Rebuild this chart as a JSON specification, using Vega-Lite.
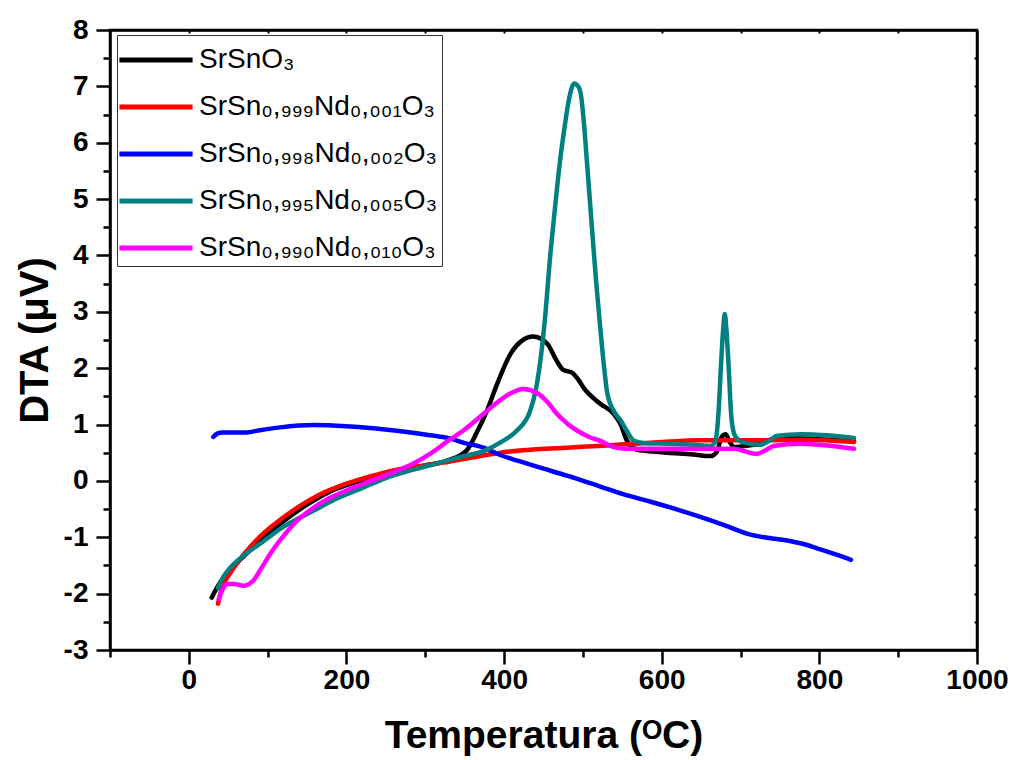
{
  "$schema": "https://vega.github.io/schema/vega-lite/v6.json",
  "width": 867,
  "height": 620,
  "autosize": {"type": "none"},
  "padding": {"left": 110, "top": 30, "right": 44, "bottom": 110},
  "background": "white",
  "config": {
    "view": {"stroke": "black", "strokeWidth": 2.5},
    "font": "Liberation Sans"
  },
  "datasets": {
    "dta": [
      {"s": "SrSnO₃", "T": 29, "v": -2.07}, {"s": "SrSnO₃", "T": 40, "v": -1.8}, {"s": "SrSnO₃", "T": 52, "v": -1.6}, {"s": "SrSnO₃", "T": 65, "v": -1.4}, {"s": "SrSnO₃", "T": 90, "v": -1.07}, {"s": "SrSnO₃", "T": 116, "v": -0.76}, {"s": "SrSnO₃", "T": 150, "v": -0.42}, {"s": "SrSnO₃", "T": 179, "v": -0.19}, {"s": "SrSnO₃", "T": 210, "v": -0.03}, {"s": "SrSnO₃", "T": 243, "v": 0.1}, {"s": "SrSnO₃", "T": 275, "v": 0.2}, {"s": "SrSnO₃", "T": 306, "v": 0.29}, {"s": "SrSnO₃", "T": 330, "v": 0.37}, {"s": "SrSnO₃", "T": 353, "v": 0.55}, {"s": "SrSnO₃", "T": 365, "v": 0.85}, {"s": "SrSnO₃", "T": 378, "v": 1.24}, {"s": "SrSnO₃", "T": 392, "v": 1.75}, {"s": "SrSnO₃", "T": 408, "v": 2.25}, {"s": "SrSnO₃", "T": 422, "v": 2.48}, {"s": "SrSnO₃", "T": 437, "v": 2.56}, {"s": "SrSnO₃", "T": 455, "v": 2.43}, {"s": "SrSnO₃", "T": 466, "v": 2.15}, {"s": "SrSnO₃", "T": 475, "v": 1.97}, {"s": "SrSnO₃", "T": 486, "v": 1.92}, {"s": "SrSnO₃", "T": 494, "v": 1.8}, {"s": "SrSnO₃", "T": 501, "v": 1.65}, {"s": "SrSnO₃", "T": 522, "v": 1.37}, {"s": "SrSnO₃", "T": 539, "v": 1.19}, {"s": "SrSnO₃", "T": 548, "v": 1.0}, {"s": "SrSnO₃", "T": 556, "v": 0.71}, {"s": "SrSnO₃", "T": 569, "v": 0.55}, {"s": "SrSnO₃", "T": 590, "v": 0.52}, {"s": "SrSnO₃", "T": 607, "v": 0.5}, {"s": "SrSnO₃", "T": 640, "v": 0.47}, {"s": "SrSnO₃", "T": 662, "v": 0.44}, {"s": "SrSnO₃", "T": 670, "v": 0.52}, {"s": "SrSnO₃", "T": 676, "v": 0.78}, {"s": "SrSnO₃", "T": 681, "v": 0.83}, {"s": "SrSnO₃", "T": 686, "v": 0.7}, {"s": "SrSnO₃", "T": 692, "v": 0.6}, {"s": "SrSnO₃", "T": 710, "v": 0.63}, {"s": "SrSnO₃", "T": 725, "v": 0.66}, {"s": "SrSnO₃", "T": 740, "v": 0.74}, {"s": "SrSnO₃", "T": 760, "v": 0.76}, {"s": "SrSnO₃", "T": 800, "v": 0.74}, {"s": "SrSnO₃", "T": 844, "v": 0.71},

      {"s": "SrSn₀,₉₉₉Nd₀,₀₀₁O₃", "T": 37, "v": -2.18}, {"s": "SrSn₀,₉₉₉Nd₀,₀₀₁O₃", "T": 42, "v": -1.9}, {"s": "SrSn₀,₉₉₉Nd₀,₀₀₁O₃", "T": 52, "v": -1.65}, {"s": "SrSn₀,₉₉₉Nd₀,₀₀₁O₃", "T": 70, "v": -1.3}, {"s": "SrSn₀,₉₉₉Nd₀,₀₀₁O₃", "T": 94, "v": -0.94}, {"s": "SrSn₀,₉₉₉Nd₀,₀₀₁O₃", "T": 115, "v": -0.7}, {"s": "SrSn₀,₉₉₉Nd₀,₀₀₁O₃", "T": 137, "v": -0.48}, {"s": "SrSn₀,₉₉₉Nd₀,₀₀₁O₃", "T": 165, "v": -0.25}, {"s": "SrSn₀,₉₉₉Nd₀,₀₀₁O₃", "T": 200, "v": -0.05}, {"s": "SrSn₀,₉₉₉Nd₀,₀₀₁O₃", "T": 230, "v": 0.08}, {"s": "SrSn₀,₉₉₉Nd₀,₀₀₁O₃", "T": 264, "v": 0.2}, {"s": "SrSn₀,₉₉₉Nd₀,₀₀₁O₃", "T": 300, "v": 0.28}, {"s": "SrSn₀,₉₉₉Nd₀,₀₀₁O₃", "T": 330, "v": 0.34}, {"s": "SrSn₀,₉₉₉Nd₀,₀₀₁O₃", "T": 370, "v": 0.44}, {"s": "SrSn₀,₉₉₉Nd₀,₀₀₁O₃", "T": 395, "v": 0.5}, {"s": "SrSn₀,₉₉₉Nd₀,₀₀₁O₃", "T": 430, "v": 0.55}, {"s": "SrSn₀,₉₉₉Nd₀,₀₀₁O₃", "T": 480, "v": 0.59}, {"s": "SrSn₀,₉₉₉Nd₀,₀₀₁O₃", "T": 520, "v": 0.62}, {"s": "SrSn₀,₉₉₉Nd₀,₀₀₁O₃", "T": 565, "v": 0.66}, {"s": "SrSn₀,₉₉₉Nd₀,₀₀₁O₃", "T": 600, "v": 0.69}, {"s": "SrSn₀,₉₉₉Nd₀,₀₀₁O₃", "T": 649, "v": 0.72}, {"s": "SrSn₀,₉₉₉Nd₀,₀₀₁O₃", "T": 700, "v": 0.72}, {"s": "SrSn₀,₉₉₉Nd₀,₀₀₁O₃", "T": 734, "v": 0.72}, {"s": "SrSn₀,₉₉₉Nd₀,₀₀₁O₃", "T": 780, "v": 0.73}, {"s": "SrSn₀,₉₉₉Nd₀,₀₀₁O₃", "T": 844, "v": 0.69},

      {"s": "SrSn₀,₉₉₈Nd₀,₀₀₂O₃", "T": 31, "v": 0.78}, {"s": "SrSn₀,₉₉₈Nd₀,₀₀₂O₃", "T": 36, "v": 0.84}, {"s": "SrSn₀,₉₉₈Nd₀,₀₀₂O₃", "T": 43, "v": 0.86}, {"s": "SrSn₀,₉₉₈Nd₀,₀₀₂O₃", "T": 60, "v": 0.86}, {"s": "SrSn₀,₉₉₈Nd₀,₀₀₂O₃", "T": 73, "v": 0.86}, {"s": "SrSn₀,₉₉₈Nd₀,₀₀₂O₃", "T": 90, "v": 0.9}, {"s": "SrSn₀,₉₉₈Nd₀,₀₀₂O₃", "T": 116, "v": 0.95}, {"s": "SrSn₀,₉₉₈Nd₀,₀₀₂O₃", "T": 158, "v": 0.99}, {"s": "SrSn₀,₉₉₈Nd₀,₀₀₂O₃", "T": 200, "v": 0.97}, {"s": "SrSn₀,₉₉₈Nd₀,₀₀₂O₃", "T": 230, "v": 0.94}, {"s": "SrSn₀,₉₉₈Nd₀,₀₀₂O₃", "T": 264, "v": 0.89}, {"s": "SrSn₀,₉₉₈Nd₀,₀₀₂O₃", "T": 306, "v": 0.81}, {"s": "SrSn₀,₉₉₈Nd₀,₀₀₂O₃", "T": 332, "v": 0.75}, {"s": "SrSn₀,₉₉₈Nd₀,₀₀₂O₃", "T": 348, "v": 0.68}, {"s": "SrSn₀,₉₉₈Nd₀,₀₀₂O₃", "T": 374, "v": 0.59}, {"s": "SrSn₀,₉₉₈Nd₀,₀₀₂O₃", "T": 395, "v": 0.46}, {"s": "SrSn₀,₉₉₈Nd₀,₀₀₂O₃", "T": 417, "v": 0.36}, {"s": "SrSn₀,₉₉₈Nd₀,₀₀₂O₃", "T": 459, "v": 0.18}, {"s": "SrSn₀,₉₉₈Nd₀,₀₀₂O₃", "T": 490, "v": 0.05}, {"s": "SrSn₀,₉₉₈Nd₀,₀₀₂O₃", "T": 522, "v": -0.1}, {"s": "SrSn₀,₉₉₈Nd₀,₀₀₂O₃", "T": 550, "v": -0.23}, {"s": "SrSn₀,₉₉₈Nd₀,₀₀₂O₃", "T": 586, "v": -0.37}, {"s": "SrSn₀,₉₉₈Nd₀,₀₀₂O₃", "T": 620, "v": -0.51}, {"s": "SrSn₀,₉₉₈Nd₀,₀₀₂O₃", "T": 649, "v": -0.64}, {"s": "SrSn₀,₉₉₈Nd₀,₀₀₂O₃", "T": 680, "v": -0.79}, {"s": "SrSn₀,₉₉₈Nd₀,₀₀₂O₃", "T": 709, "v": -0.94}, {"s": "SrSn₀,₉₉₈Nd₀,₀₀₂O₃", "T": 734, "v": -1.01}, {"s": "SrSn₀,₉₉₈Nd₀,₀₀₂O₃", "T": 764, "v": -1.07}, {"s": "SrSn₀,₉₉₈Nd₀,₀₀₂O₃", "T": 780, "v": -1.12}, {"s": "SrSn₀,₉₉₈Nd₀,₀₀₂O₃", "T": 798, "v": -1.2}, {"s": "SrSn₀,₉₉₈Nd₀,₀₀₂O₃", "T": 820, "v": -1.3}, {"s": "SrSn₀,₉₉₈Nd₀,₀₀₂O₃", "T": 840, "v": -1.4},

      {"s": "SrSn₀,₉₉₅Nd₀,₀₀₅O₃", "T": 37, "v": -1.9}, {"s": "SrSn₀,₉₉₅Nd₀,₀₀₅O₃", "T": 44, "v": -1.7}, {"s": "SrSn₀,₉₉₅Nd₀,₀₀₅O₃", "T": 52, "v": -1.55}, {"s": "SrSn₀,₉₉₅Nd₀,₀₀₅O₃", "T": 69, "v": -1.33}, {"s": "SrSn₀,₉₉₅Nd₀,₀₀₅O₃", "T": 90, "v": -1.12}, {"s": "SrSn₀,₉₉₅Nd₀,₀₀₅O₃", "T": 116, "v": -0.85}, {"s": "SrSn₀,₉₉₅Nd₀,₀₀₅O₃", "T": 158, "v": -0.53}, {"s": "SrSn₀,₉₉₅Nd₀,₀₀₅O₃", "T": 190, "v": -0.3}, {"s": "SrSn₀,₉₉₅Nd₀,₀₀₅O₃", "T": 221, "v": -0.12}, {"s": "SrSn₀,₉₉₅Nd₀,₀₀₅O₃", "T": 250, "v": 0.05}, {"s": "SrSn₀,₉₉₅Nd₀,₀₀₅O₃", "T": 285, "v": 0.2}, {"s": "SrSn₀,₉₉₅Nd₀,₀₀₅O₃", "T": 320, "v": 0.33}, {"s": "SrSn₀,₉₉₅Nd₀,₀₀₅O₃", "T": 348, "v": 0.44}, {"s": "SrSn₀,₉₉₅Nd₀,₀₀₅O₃", "T": 374, "v": 0.53}, {"s": "SrSn₀,₉₉₅Nd₀,₀₀₅O₃", "T": 395, "v": 0.68}, {"s": "SrSn₀,₉₉₅Nd₀,₀₀₅O₃", "T": 416, "v": 0.89}, {"s": "SrSn₀,₉₉₅Nd₀,₀₀₅O₃", "T": 433, "v": 1.24}, {"s": "SrSn₀,₉₉₅Nd₀,₀₀₅O₃", "T": 440, "v": 1.6}, {"s": "SrSn₀,₉₉₅Nd₀,₀₀₅O₃", "T": 446, "v": 2.13}, {"s": "SrSn₀,₉₉₅Nd₀,₀₀₅O₃", "T": 452, "v": 2.9}, {"s": "SrSn₀,₉₉₅Nd₀,₀₀₅O₃", "T": 458, "v": 3.91}, {"s": "SrSn₀,₉₉₅Nd₀,₀₀₅O₃", "T": 465, "v": 4.9}, {"s": "SrSn₀,₉₉₅Nd₀,₀₀₅O₃", "T": 471, "v": 5.68}, {"s": "SrSn₀,₉₉₅Nd₀,₀₀₅O₃", "T": 477, "v": 6.3}, {"s": "SrSn₀,₉₉₅Nd₀,₀₀₅O₃", "T": 482, "v": 6.75}, {"s": "SrSn₀,₉₉₅Nd₀,₀₀₅O₃", "T": 489, "v": 7.05}, {"s": "SrSn₀,₉₉₅Nd₀,₀₀₅O₃", "T": 494, "v": 7.0}, {"s": "SrSn₀,₉₉₅Nd₀,₀₀₅O₃", "T": 497, "v": 6.89}, {"s": "SrSn₀,₉₉₅Nd₀,₀₀₅O₃", "T": 501, "v": 6.4}, {"s": "SrSn₀,₉₉₅Nd₀,₀₀₅O₃", "T": 505, "v": 5.68}, {"s": "SrSn₀,₉₉₅Nd₀,₀₀₅O₃", "T": 509, "v": 4.95}, {"s": "SrSn₀,₉₉₅Nd₀,₀₀₅O₃", "T": 513, "v": 4.21}, {"s": "SrSn₀,₉₉₅Nd₀,₀₀₅O₃", "T": 517, "v": 3.5}, {"s": "SrSn₀,₉₉₅Nd₀,₀₀₅O₃", "T": 522, "v": 2.72}, {"s": "SrSn₀,₉₉₅Nd₀,₀₀₅O₃", "T": 527, "v": 2.0}, {"s": "SrSn₀,₉₉₅Nd₀,₀₀₅O₃", "T": 531, "v": 1.55}, {"s": "SrSn₀,₉₉₅Nd₀,₀₀₅O₃", "T": 540, "v": 1.22}, {"s": "SrSn₀,₉₉₅Nd₀,₀₀₅O₃", "T": 548, "v": 1.07}, {"s": "SrSn₀,₉₉₅Nd₀,₀₀₅O₃", "T": 556, "v": 0.88}, {"s": "SrSn₀,₉₉₅Nd₀,₀₀₅O₃", "T": 565, "v": 0.71}, {"s": "SrSn₀,₉₉₅Nd₀,₀₀₅O₃", "T": 580, "v": 0.67}, {"s": "SrSn₀,₉₉₅Nd₀,₀₀₅O₃", "T": 607, "v": 0.66}, {"s": "SrSn₀,₉₉₅Nd₀,₀₀₅O₃", "T": 640, "v": 0.64}, {"s": "SrSn₀,₉₉₅Nd₀,₀₀₅O₃", "T": 662, "v": 0.62}, {"s": "SrSn₀,₉₉₅Nd₀,₀₀₅O₃", "T": 668, "v": 0.7}, {"s": "SrSn₀,₉₉₅Nd₀,₀₀₅O₃", "T": 672, "v": 1.2}, {"s": "SrSn₀,₉₉₅Nd₀,₀₀₅O₃", "T": 675, "v": 2.0}, {"s": "SrSn₀,₉₉₅Nd₀,₀₀₅O₃", "T": 678, "v": 2.7}, {"s": "SrSn₀,₉₉₅Nd₀,₀₀₅O₃", "T": 680, "v": 2.96}, {"s": "SrSn₀,₉₉₅Nd₀,₀₀₅O₃", "T": 682, "v": 2.7}, {"s": "SrSn₀,₉₉₅Nd₀,₀₀₅O₃", "T": 685, "v": 2.0}, {"s": "SrSn₀,₉₉₅Nd₀,₀₀₅O₃", "T": 688, "v": 1.2}, {"s": "SrSn₀,₉₉₅Nd₀,₀₀₅O₃", "T": 692, "v": 0.83}, {"s": "SrSn₀,₉₉₅Nd₀,₀₀₅O₃", "T": 698, "v": 0.72}, {"s": "SrSn₀,₉₉₅Nd₀,₀₀₅O₃", "T": 704, "v": 0.68}, {"s": "SrSn₀,₉₉₅Nd₀,₀₀₅O₃", "T": 725, "v": 0.64}, {"s": "SrSn₀,₉₉₅Nd₀,₀₀₅O₃", "T": 735, "v": 0.7}, {"s": "SrSn₀,₉₉₅Nd₀,₀₀₅O₃", "T": 747, "v": 0.8}, {"s": "SrSn₀,₉₉₅Nd₀,₀₀₅O₃", "T": 776, "v": 0.83}, {"s": "SrSn₀,₉₉₅Nd₀,₀₀₅O₃", "T": 810, "v": 0.81}, {"s": "SrSn₀,₉₉₅Nd₀,₀₀₅O₃", "T": 844, "v": 0.76},

      {"s": "SrSn₀,₉₉₀Nd₀,₀₁₀O₃", "T": 38, "v": -2.1}, {"s": "SrSn₀,₉₉₀Nd₀,₀₁₀O₃", "T": 43, "v": -1.92}, {"s": "SrSn₀,₉₉₀Nd₀,₀₁₀O₃", "T": 48, "v": -1.83}, {"s": "SrSn₀,₉₉₀Nd₀,₀₁₀O₃", "T": 58, "v": -1.83}, {"s": "SrSn₀,₉₉₀Nd₀,₀₁₀O₃", "T": 69, "v": -1.86}, {"s": "SrSn₀,₉₉₀Nd₀,₀₁₀O₃", "T": 75, "v": -1.84}, {"s": "SrSn₀,₉₉₀Nd₀,₀₁₀O₃", "T": 81, "v": -1.78}, {"s": "SrSn₀,₉₉₀Nd₀,₀₁₀O₃", "T": 92, "v": -1.55}, {"s": "SrSn₀,₉₉₀Nd₀,₀₁₀O₃", "T": 103, "v": -1.3}, {"s": "SrSn₀,₉₉₀Nd₀,₀₁₀O₃", "T": 120, "v": -0.98}, {"s": "SrSn₀,₉₉₀Nd₀,₀₁₀O₃", "T": 137, "v": -0.71}, {"s": "SrSn₀,₉₉₀Nd₀,₀₁₀O₃", "T": 158, "v": -0.48}, {"s": "SrSn₀,₉₉₀Nd₀,₀₁₀O₃", "T": 179, "v": -0.3}, {"s": "SrSn₀,₉₉₀Nd₀,₀₁₀O₃", "T": 200, "v": -0.17}, {"s": "SrSn₀,₉₉₀Nd₀,₀₁₀O₃", "T": 221, "v": -0.05}, {"s": "SrSn₀,₉₉₀Nd₀,₀₁₀O₃", "T": 243, "v": 0.06}, {"s": "SrSn₀,₉₉₀Nd₀,₀₁₀O₃", "T": 264, "v": 0.18}, {"s": "SrSn₀,₉₉₀Nd₀,₀₁₀O₃", "T": 285, "v": 0.31}, {"s": "SrSn₀,₉₉₀Nd₀,₀₁₀O₃", "T": 306, "v": 0.48}, {"s": "SrSn₀,₉₉₀Nd₀,₀₁₀O₃", "T": 332, "v": 0.74}, {"s": "SrSn₀,₉₉₀Nd₀,₀₁₀O₃", "T": 348, "v": 0.89}, {"s": "SrSn₀,₉₉₀Nd₀,₀₁₀O₃", "T": 374, "v": 1.19}, {"s": "SrSn₀,₉₉₀Nd₀,₀₁₀O₃", "T": 392, "v": 1.4}, {"s": "SrSn₀,₉₉₀Nd₀,₀₁₀O₃", "T": 408, "v": 1.55}, {"s": "SrSn₀,₉₉₀Nd₀,₀₁₀O₃", "T": 424, "v": 1.63}, {"s": "SrSn₀,₉₉₀Nd₀,₀₁₀O₃", "T": 442, "v": 1.56}, {"s": "SrSn₀,₉₉₀Nd₀,₀₁₀O₃", "T": 455, "v": 1.4}, {"s": "SrSn₀,₉₉₀Nd₀,₀₁₀O₃", "T": 467, "v": 1.19}, {"s": "SrSn₀,₉₉₀Nd₀,₀₁₀O₃", "T": 480, "v": 1.02}, {"s": "SrSn₀,₉₉₀Nd₀,₀₁₀O₃", "T": 493, "v": 0.89}, {"s": "SrSn₀,₉₉₀Nd₀,₀₁₀O₃", "T": 508, "v": 0.78}, {"s": "SrSn₀,₉₉₀Nd₀,₀₁₀O₃", "T": 522, "v": 0.71}, {"s": "SrSn₀,₉₉₀Nd₀,₀₁₀O₃", "T": 539, "v": 0.6}, {"s": "SrSn₀,₉₉₀Nd₀,₀₁₀O₃", "T": 555, "v": 0.57}, {"s": "SrSn₀,₉₉₀Nd₀,₀₁₀O₃", "T": 607, "v": 0.57}, {"s": "SrSn₀,₉₉₀Nd₀,₀₁₀O₃", "T": 650, "v": 0.57}, {"s": "SrSn₀,₉₉₀Nd₀,₀₁₀O₃", "T": 692, "v": 0.57}, {"s": "SrSn₀,₉₉₀Nd₀,₀₁₀O₃", "T": 704, "v": 0.53}, {"s": "SrSn₀,₉₉₀Nd₀,₀₁₀O₃", "T": 714, "v": 0.49}, {"s": "SrSn₀,₉₉₀Nd₀,₀₁₀O₃", "T": 721, "v": 0.48}, {"s": "SrSn₀,₉₉₀Nd₀,₀₁₀O₃", "T": 730, "v": 0.53}, {"s": "SrSn₀,₉₉₀Nd₀,₀₁₀O₃", "T": 742, "v": 0.62}, {"s": "SrSn₀,₉₉₀Nd₀,₀₁₀O₃", "T": 776, "v": 0.66}, {"s": "SrSn₀,₉₉₀Nd₀,₀₁₀O₃", "T": 810, "v": 0.63}, {"s": "SrSn₀,₉₉₀Nd₀,₀₁₀O₃", "T": 844, "v": 0.57}
    ]
  },
  "data": {"name": "dta"},
  "layer": [
    {
      "mark": {"type": "line", "strokeWidth": 4.5, "interpolate": "monotone", "strokeCap": "round", "strokeJoin": "round"},
      "encoding": {
        "x": {
          "field": "T", "type": "quantitative",
          "scale": {"domain": [-100, 1000], "nice": false, "zero": false},
          "axis": {
            "orient": "bottom",
            "values": [-100, 0, 100, 200, 300, 400, 500, 600, 700, 800, 900, 1000],
            "labelExpr": "datum.value % 200 === 0 ? '' + datum.value : ''",
            "tickSize": {"condition": {"test": "datum.value % 200 === 0", "value": 14}, "value": 7},
            "tickWidth": 2.5, "tickColor": "black",
            "domainColor": "black", "domainWidth": 2.5,
            "grid": false,
            "labelFont": "Liberation Sans", "labelFontWeight": "bold", "labelFontSize": 28, "labelColor": "black",
            "labelPadding": 2, "labelFlush": false, "labelOverlap": false,
            "title": "Temperatura (ᴼC)",
            "titleFont": "Liberation Sans", "titleFontWeight": "bold", "titleFontSize": 39, "titleColor": "black",
            "titlePadding": 22
          }
        },
        "y": {
          "field": "v", "type": "quantitative",
          "scale": {"domain": [-3, 8], "nice": false, "zero": false},
          "axis": {
            "orient": "left",
            "values": [-3, -2.5, -2, -1.5, -1, -0.5, 0, 0.5, 1, 1.5, 2, 2.5, 3, 3.5, 4, 4.5, 5, 5.5, 6, 6.5, 7, 7.5, 8],
            "labelExpr": "datum.value % 1 === 0 ? '' + datum.value : ''",
            "tickSize": {"condition": {"test": "datum.value % 1 === 0", "value": 14}, "value": 7},
            "tickWidth": 2.5, "tickColor": "black",
            "domainColor": "black", "domainWidth": 2.5,
            "grid": false,
            "labelFont": "Liberation Sans", "labelFontWeight": "bold", "labelFontSize": 28, "labelColor": "black",
            "labelPadding": 8, "labelFlush": false, "labelOverlap": false,
            "title": "DTA (μV)",
            "titleFont": "Liberation Sans", "titleFontWeight": "bold", "titleFontSize": 40, "titleColor": "black",
            "titlePadding": 8
          }
        },
        "color": {
          "field": "s", "type": "nominal",
          "scale": {
            "domain": ["SrSnO₃", "SrSn₀,₉₉₉Nd₀,₀₀₁O₃", "SrSn₀,₉₉₈Nd₀,₀₀₂O₃", "SrSn₀,₉₉₅Nd₀,₀₀₅O₃", "SrSn₀,₉₉₀Nd₀,₀₁₀O₃"],
            "range": ["#000000", "#ff0000", "#0000ff", "#008080", "#ff00ff"]
          },
          "legend": {
            "title": null,
            "orient": "none", "legendX": 7, "legendY": 5,
            "fillColor": "white", "strokeColor": "#333333",
            "padding": 4,
            "symbolType": "M-2,0H2", "symbolSize": 1340, "symbolStrokeWidth": 5,
            "symbolOffset": 14,
            "labelFont": "Liberation Sans", "labelFontSize": 28, "labelColor": "black",
            "labelOffset": 22, "rowPadding": 12, "labelLimit": 400
          }
        }
      }
    },
    {
      "mark": {"type": "line", "opacity": 0},
      "encoding": {
        "x": {
          "field": "T", "type": "quantitative",
          "axis": {
            "orient": "top",
            "values": [-100, 0, 100, 200, 300, 400, 500, 600, 700, 800, 900, 1000],
            "labels": false, "title": null, "grid": false,
            "tickSize": -3, "tickWidth": 2, "tickColor": "black",
            "domainColor": "black", "domainWidth": 2.5
          }
        },
        "y": {
          "field": "v", "type": "quantitative",
          "axis": {
            "orient": "right",
            "values": [-3, -2.5, -2, -1.5, -1, -0.5, 0, 0.5, 1, 1.5, 2, 2.5, 3, 3.5, 4, 4.5, 5, 5.5, 6, 6.5, 7, 7.5, 8],
            "labels": false, "title": null, "grid": false,
            "tickSize": -3, "tickWidth": 2, "tickColor": "black",
            "domainColor": "black", "domainWidth": 2.5
          }
        },
        "detail": {"field": "s"}
      }
    }
  ],
  "resolve": {"axis": {"x": "independent", "y": "independent"}}
}
